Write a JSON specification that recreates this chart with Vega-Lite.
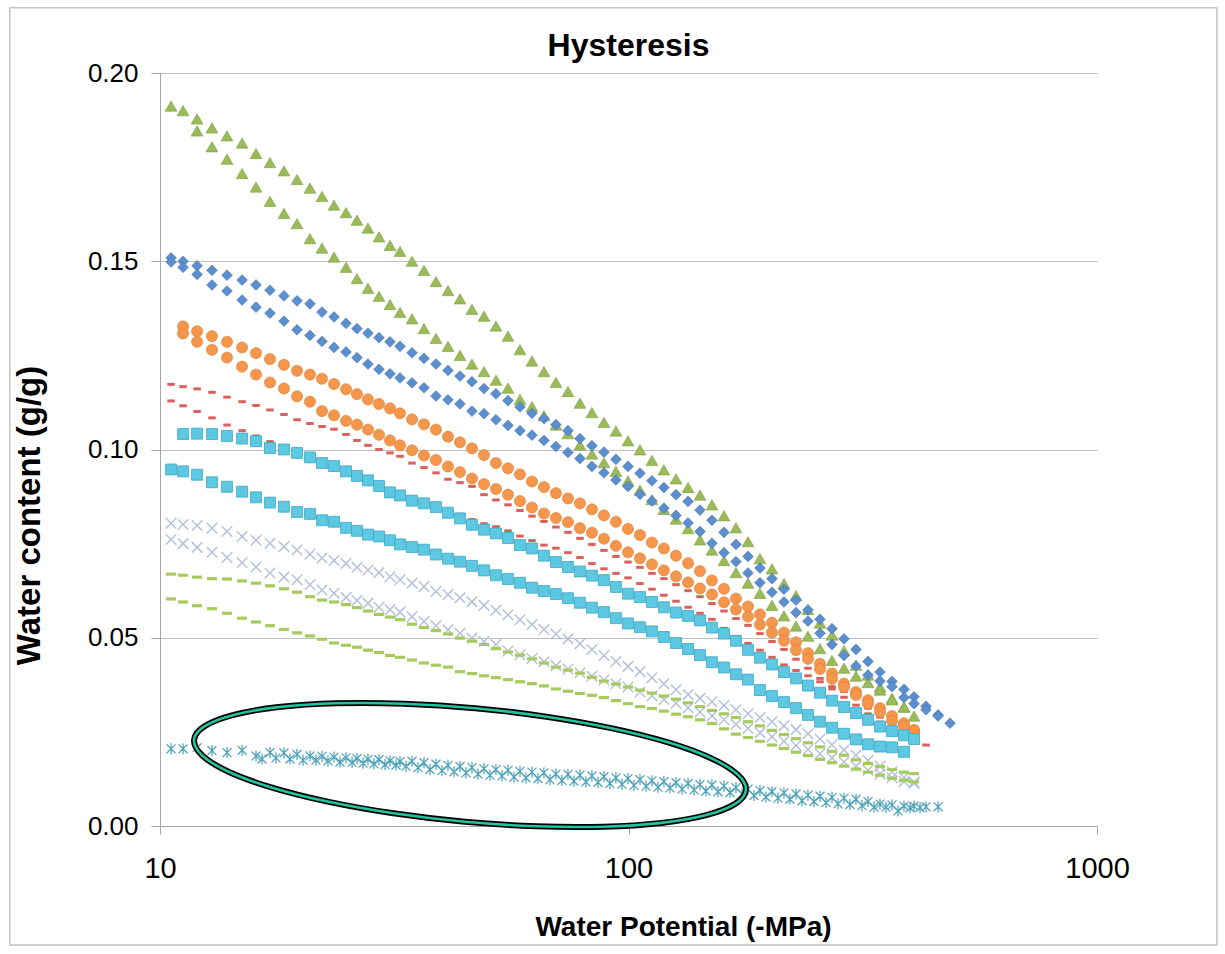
{
"$schema":"https://vega.github.io/schema/vega-lite/v6.json",
"width":937,"height":753,
"autosize":{"type":"none"},
"padding":{"left":160,"top":73,"right":128,"bottom":128},
"background":"white",
"config":{"view":{"stroke":null},"font":"Liberation Sans Narrow, Liberation Sans, sans-serif"},
"title":{"text":"Hysteresis","fontSize":32,"fontWeight":"bold","anchor":"middle","baseline":"alphabetic","offset":-48,"dy":33,"color":"black"},
"encoding":{
 "x":{"field":"x","type":"quantitative","scale":{"type":"log","domain":[10,1000]},
  "axis":{"title":"Water Potential (-MPa)","values":[10,100,1000],"format":"d","grid":false,"domainColor":"#A6A6A6","tickColor":"#A6A6A6","tickSize":8,"labelFontSize":29,"labelPadding":20,"labelColor":"black","labelFlush":false,"titleFontSize":28,"titleFontWeight":"bold","titleColor":"black","titleX":523,"titleY":101,"titleAlign":"center","titleBaseline":"middle"}},
 "y":{"field":"y","type":"quantitative","scale":{"domain":[0,0.2],"nice":false,"zero":false},
  "axis":{"title":"Water content (g/g)","values":[0,0.05,0.1,0.15,0.2],"format":".2f","grid":true,"gridColor":"#BEBEBE","domainColor":"#A6A6A6","tickColor":"#A6A6A6","tickSize":9,"labelFontSize":26,"labelPadding":13,"labelColor":"black","labelFlush":false,"titleFontSize":33,"titleFontWeight":"bold","titleColor":"black","titleX":-131,"titleY":442,"titleAngle":-90,"titleAlign":"center","titleBaseline":"middle"}}
},
"layer":[
{"data":{"values":[{"x":4.78,"x2":1803,"y":-0.0316,"y2":0.2173}]},
 "mark":{"type":"rect","fill":"transparent","stroke":"#C4C4C4","strokeWidth":1.5},
 "encoding":{"x2":{"field":"x2"},"y2":{"field":"y2"}}},
{"data":{"values":[
{"x":10.56,"y":0.1173},{"x":11.2,"y":0.1167},{"x":12.0,"y":0.1161},{"x":12.91,"y":0.1152},{"x":13.9,"y":0.1139},{"x":14.97,"y":0.1127},{"x":16.03,"y":0.1117},{"x":17.17,"y":0.1105},{"x":18.39,"y":0.1093},{"x":19.61,"y":0.1079},{"x":20.9,"y":0.1069},{"x":22.17,"y":0.1061},{"x":23.52,"y":0.1054},{"x":24.95,"y":0.104},{"x":26.33,"y":0.1024},{"x":27.79,"y":0.1011},{"x":29.34,"y":0.1},{"x":30.97,"y":0.0991},{"x":32.53,"y":0.0982},{"x":34.51,"y":0.0964},{"x":36.6,"y":0.0952},{"x":38.82,"y":0.0938},{"x":41.18,"y":0.0921},{"x":43.68,"y":0.0912},{"x":46.33,"y":0.0902},{"x":49.15,"y":0.088},{"x":52.13,"y":0.0866},{"x":55.3,"y":0.0853},{"x":58.66,"y":0.0838},{"x":62.22,"y":0.0823},{"x":66.0,"y":0.0809},{"x":70.0,"y":0.0794},{"x":74.26,"y":0.078},{"x":78.77,"y":0.0764},{"x":83.55,"y":0.0748},{"x":88.63,"y":0.0732},{"x":94.01,"y":0.0716},{"x":99.75,"y":0.0701},{"x":105.8,"y":0.0687},{"x":112.2,"y":0.0671},{"x":119.0,"y":0.0657},{"x":126.3,"y":0.0641},{"x":134.0,"y":0.0625},{"x":142.1,"y":0.0609},{"x":150.7,"y":0.0591},{"x":159.9,"y":0.0571},{"x":169.6,"y":0.0551},{"x":179.9,"y":0.0533},{"x":190.8,"y":0.0511},{"x":202.4,"y":0.049},{"x":214.7,"y":0.0469},{"x":227.8,"y":0.0443},{"x":241.6,"y":0.0419},{"x":256.3,"y":0.0392},{"x":271.9,"y":0.0364},{"x":288.4,"y":0.0342},{"x":305.9,"y":0.0321},{"x":324.5,"y":0.0298},{"x":344.2,"y":0.0276},{"x":365.2,"y":0.0252},{"x":387.3,"y":0.0235},{"x":406.9,"y":0.0223},{"x":431.6,"y":0.0215},
{"x":10.56,"y":0.1129},{"x":11.2,"y":0.1116},{"x":12.0,"y":0.1101},{"x":12.91,"y":0.1084},{"x":13.9,"y":0.1065},{"x":14.97,"y":0.105},{"x":16.03,"y":0.1036},{"x":17.17,"y":0.1021},{"x":18.39,"y":0.1006},{"x":19.61,"y":0.0992},{"x":20.9,"y":0.0976},{"x":22.17,"y":0.0961},{"x":23.52,"y":0.0951},{"x":24.95,"y":0.094},{"x":26.33,"y":0.0929},{"x":27.79,"y":0.0918},{"x":29.34,"y":0.0907},{"x":30.97,"y":0.0897},{"x":32.53,"y":0.0887},{"x":34.51,"y":0.0875},{"x":36.6,"y":0.0864},{"x":38.82,"y":0.0852},{"x":41.18,"y":0.084},{"x":43.68,"y":0.0828},{"x":46.33,"y":0.0814},{"x":49.15,"y":0.0803},{"x":52.13,"y":0.0795},{"x":55.3,"y":0.0784},{"x":58.66,"y":0.077},{"x":62.22,"y":0.0758},{"x":66.0,"y":0.0746},{"x":70.0,"y":0.0738},{"x":74.26,"y":0.0726},{"x":78.77,"y":0.0713},{"x":83.55,"y":0.0697},{"x":88.63,"y":0.0683},{"x":94.01,"y":0.0671},{"x":99.75,"y":0.0659},{"x":105.8,"y":0.0644},{"x":112.2,"y":0.0629},{"x":119.0,"y":0.0613},{"x":126.3,"y":0.0597},{"x":134.0,"y":0.0581},{"x":142.1,"y":0.0565},{"x":150.7,"y":0.0549},{"x":159.9,"y":0.0525},{"x":169.6,"y":0.0503},{"x":179.9,"y":0.0485},{"x":190.8,"y":0.0467},{"x":202.4,"y":0.0448},{"x":214.7,"y":0.0428},{"x":227.8,"y":0.0413},{"x":241.6,"y":0.0399},{"x":256.3,"y":0.0383},{"x":271.9,"y":0.037},{"x":288.4,"y":0.0357},{"x":305.9,"y":0.0344},{"x":324.5,"y":0.0313},{"x":344.2,"y":0.0289},{"x":365.2,"y":0.0269},{"x":387.3,"y":0.0249},{"x":406.9,"y":0.0231}
]},
 "mark":{"type":"point","shape":"M-1,-0.4L1,-0.4L1,0.4L-1,0.4Z","filled":true,"fill":"#D9605C","size":56,"opacity":1}},
{"data":{"values":[
{"x":10.56,"y":0.1912},{"x":11.2,"y":0.19},{"x":12.0,"y":0.1878},{"x":12.91,"y":0.1854},{"x":13.9,"y":0.1833},{"x":14.97,"y":0.1814},{"x":16.03,"y":0.1786},{"x":17.17,"y":0.1762},{"x":18.39,"y":0.174},{"x":19.61,"y":0.1717},{"x":20.9,"y":0.1694},{"x":22.17,"y":0.1672},{"x":23.52,"y":0.1649},{"x":24.95,"y":0.1629},{"x":26.33,"y":0.1609},{"x":27.79,"y":0.1588},{"x":29.34,"y":0.1565},{"x":30.97,"y":0.1542},{"x":32.53,"y":0.1526},{"x":34.51,"y":0.15},{"x":36.6,"y":0.1476},{"x":38.82,"y":0.1446},{"x":41.18,"y":0.1422},{"x":43.68,"y":0.14},{"x":46.33,"y":0.1372},{"x":49.15,"y":0.1354},{"x":52.13,"y":0.1328},{"x":55.3,"y":0.1301},{"x":58.66,"y":0.1265},{"x":62.22,"y":0.1235},{"x":66.0,"y":0.1207},{"x":70.0,"y":0.1178},{"x":74.26,"y":0.1154},{"x":78.77,"y":0.1123},{"x":83.55,"y":0.1098},{"x":88.63,"y":0.1072},{"x":94.01,"y":0.1049},{"x":99.75,"y":0.1023},{"x":105.8,"y":0.0999},{"x":112.2,"y":0.0971},{"x":119.0,"y":0.0946},{"x":126.3,"y":0.0922},{"x":134.0,"y":0.0899},{"x":142.1,"y":0.0879},{"x":150.7,"y":0.0853},{"x":159.9,"y":0.0824},{"x":169.6,"y":0.0792},{"x":179.9,"y":0.0755},{"x":190.8,"y":0.071},{"x":202.4,"y":0.0683},{"x":214.7,"y":0.0644},{"x":227.8,"y":0.0612},{"x":241.6,"y":0.0575},{"x":256.3,"y":0.0539},{"x":271.9,"y":0.0507},{"x":288.4,"y":0.0466},{"x":305.9,"y":0.0427},{"x":324.5,"y":0.0401},{"x":344.2,"y":0.0369},{"x":365.2,"y":0.0339},{"x":387.3,"y":0.0316},{"x":406.9,"y":0.0292},
{"x":12.0,"y":0.1846},{"x":12.91,"y":0.1804},{"x":13.9,"y":0.1771},{"x":14.97,"y":0.1733},{"x":16.03,"y":0.1697},{"x":17.17,"y":0.1659},{"x":18.39,"y":0.1627},{"x":19.61,"y":0.16},{"x":20.9,"y":0.156},{"x":22.17,"y":0.1535},{"x":23.52,"y":0.1511},{"x":24.95,"y":0.1484},{"x":26.33,"y":0.1454},{"x":27.79,"y":0.1428},{"x":29.34,"y":0.1407},{"x":30.97,"y":0.1385},{"x":32.53,"y":0.1364},{"x":34.51,"y":0.1347},{"x":36.6,"y":0.1321},{"x":38.82,"y":0.1295},{"x":41.18,"y":0.1274},{"x":43.68,"y":0.125},{"x":46.33,"y":0.1227},{"x":49.15,"y":0.1207},{"x":52.13,"y":0.1184},{"x":55.3,"y":0.1163},{"x":58.66,"y":0.1133},{"x":62.22,"y":0.1114},{"x":66.0,"y":0.109},{"x":70.0,"y":0.1065},{"x":74.26,"y":0.1042},{"x":78.77,"y":0.1012},{"x":83.55,"y":0.0988},{"x":88.63,"y":0.0965},{"x":94.01,"y":0.0942},{"x":99.75,"y":0.0917},{"x":105.8,"y":0.0892},{"x":112.2,"y":0.0867},{"x":119.0,"y":0.0841},{"x":126.3,"y":0.0815},{"x":134.0,"y":0.079},{"x":142.1,"y":0.076},{"x":150.7,"y":0.0733},{"x":159.9,"y":0.0705},{"x":169.6,"y":0.0673},{"x":179.9,"y":0.0645},{"x":190.8,"y":0.0618},{"x":202.4,"y":0.0586},{"x":214.7,"y":0.0558},{"x":227.8,"y":0.0531},{"x":241.6,"y":0.0504},{"x":256.3,"y":0.0471},{"x":271.9,"y":0.044},{"x":288.4,"y":0.0419},{"x":305.9,"y":0.0398},{"x":324.5,"y":0.0381},{"x":344.2,"y":0.0361},{"x":365.2,"y":0.0335},{"x":387.3,"y":0.0316}
]},
 "mark":{"type":"point","shape":"triangle-up","filled":true,"fill":"#9BBB59","stroke":"#7E9D44","strokeWidth":0.6,"size":140,"opacity":1}},
{"data":{"values":[
{"x":10.56,"y":0.1509},{"x":11.2,"y":0.15},{"x":12.0,"y":0.1488},{"x":12.91,"y":0.1476},{"x":13.9,"y":0.1463},{"x":14.97,"y":0.145},{"x":16.03,"y":0.1437},{"x":17.17,"y":0.1423},{"x":18.39,"y":0.1408},{"x":19.61,"y":0.1395},{"x":20.9,"y":0.1387},{"x":22.17,"y":0.1365},{"x":23.52,"y":0.1352},{"x":24.95,"y":0.1335},{"x":26.33,"y":0.1321},{"x":27.79,"y":0.1309},{"x":29.34,"y":0.1297},{"x":30.97,"y":0.1286},{"x":32.53,"y":0.1274},{"x":34.51,"y":0.1257},{"x":36.6,"y":0.1242},{"x":38.82,"y":0.1227},{"x":41.18,"y":0.121},{"x":43.68,"y":0.1195},{"x":46.33,"y":0.118},{"x":49.15,"y":0.1162},{"x":52.13,"y":0.1148},{"x":55.3,"y":0.113},{"x":58.66,"y":0.1113},{"x":62.22,"y":0.1096},{"x":66.0,"y":0.1082},{"x":70.0,"y":0.1066},{"x":74.26,"y":0.105},{"x":78.77,"y":0.1029},{"x":83.55,"y":0.101},{"x":88.63,"y":0.0993},{"x":94.01,"y":0.0974},{"x":99.75,"y":0.0955},{"x":105.8,"y":0.0937},{"x":112.2,"y":0.0917},{"x":119.0,"y":0.0899},{"x":126.3,"y":0.088},{"x":134.0,"y":0.0862},{"x":142.1,"y":0.0839},{"x":150.7,"y":0.0812},{"x":159.9,"y":0.078},{"x":169.6,"y":0.0748},{"x":179.9,"y":0.0716},{"x":190.8,"y":0.0685},{"x":202.4,"y":0.0657},{"x":214.7,"y":0.0629},{"x":227.8,"y":0.06},{"x":241.6,"y":0.0574},{"x":256.3,"y":0.0549},{"x":271.9,"y":0.0524},{"x":288.4,"y":0.0497},{"x":305.9,"y":0.0469},{"x":324.5,"y":0.0437},{"x":344.2,"y":0.0409},{"x":365.2,"y":0.0384},{"x":387.3,"y":0.0363},{"x":406.9,"y":0.0343},{"x":431.6,"y":0.0318},{"x":457.9,"y":0.0295},{"x":485.7,"y":0.0273},
{"x":10.56,"y":0.1498},{"x":11.2,"y":0.1484},{"x":12.0,"y":0.1465},{"x":12.91,"y":0.1437},{"x":13.9,"y":0.1421},{"x":14.97,"y":0.1397},{"x":16.03,"y":0.1378},{"x":17.17,"y":0.1362},{"x":18.39,"y":0.1341},{"x":19.61,"y":0.1318},{"x":20.9,"y":0.1303},{"x":22.17,"y":0.1287},{"x":23.52,"y":0.1271},{"x":24.95,"y":0.1259},{"x":26.33,"y":0.1244},{"x":27.79,"y":0.1227},{"x":29.34,"y":0.1213},{"x":30.97,"y":0.1201},{"x":32.53,"y":0.119},{"x":34.51,"y":0.1177},{"x":36.6,"y":0.1164},{"x":38.82,"y":0.1142},{"x":41.18,"y":0.1132},{"x":43.68,"y":0.1121},{"x":46.33,"y":0.1102},{"x":49.15,"y":0.1095},{"x":52.13,"y":0.1079},{"x":55.3,"y":0.1064},{"x":58.66,"y":0.105},{"x":62.22,"y":0.1038},{"x":66.0,"y":0.1024},{"x":70.0,"y":0.1008},{"x":74.26,"y":0.0992},{"x":78.77,"y":0.0976},{"x":83.55,"y":0.0955},{"x":88.63,"y":0.0938},{"x":94.01,"y":0.0919},{"x":99.75,"y":0.0902},{"x":105.8,"y":0.0881},{"x":112.2,"y":0.0863},{"x":119.0,"y":0.0844},{"x":126.3,"y":0.0825},{"x":134.0,"y":0.0805},{"x":142.1,"y":0.0782},{"x":150.7,"y":0.0751},{"x":159.9,"y":0.0726},{"x":169.6,"y":0.0702},{"x":179.9,"y":0.0672},{"x":190.8,"y":0.0646},{"x":202.4,"y":0.0621},{"x":214.7,"y":0.0595},{"x":227.8,"y":0.0567},{"x":241.6,"y":0.0544},{"x":256.3,"y":0.0512},{"x":271.9,"y":0.0482},{"x":288.4,"y":0.0453},{"x":305.9,"y":0.0425},{"x":324.5,"y":0.0401},{"x":344.2,"y":0.0385},{"x":365.2,"y":0.037},{"x":387.3,"y":0.0341},{"x":406.9,"y":0.0325},{"x":431.6,"y":0.0309},{"x":457.9,"y":0.0292}
]},
 "mark":{"type":"point","shape":"diamond","filled":true,"fill":"#5B8ECF","stroke":"#4674AE","strokeWidth":0.6,"size":115,"opacity":1}},
{"data":{"values":[
{"x":11.2,"y":0.1327},{"x":12.0,"y":0.1314},{"x":12.91,"y":0.1301},{"x":13.9,"y":0.1286},{"x":14.97,"y":0.1271},{"x":16.03,"y":0.1256},{"x":17.17,"y":0.124},{"x":18.39,"y":0.1225},{"x":19.61,"y":0.1209},{"x":20.9,"y":0.1199},{"x":22.17,"y":0.1188},{"x":23.52,"y":0.1174},{"x":24.95,"y":0.116},{"x":26.33,"y":0.1147},{"x":27.79,"y":0.1133},{"x":29.34,"y":0.1121},{"x":30.97,"y":0.1109},{"x":32.53,"y":0.1096},{"x":34.51,"y":0.108},{"x":36.6,"y":0.1067},{"x":38.82,"y":0.1053},{"x":41.18,"y":0.1034},{"x":43.68,"y":0.1019},{"x":46.33,"y":0.1003},{"x":49.15,"y":0.0985},{"x":52.13,"y":0.0964},{"x":55.3,"y":0.095},{"x":58.66,"y":0.0934},{"x":62.22,"y":0.0915},{"x":66.0,"y":0.09},{"x":70.0,"y":0.0884},{"x":74.26,"y":0.087},{"x":78.77,"y":0.0857},{"x":83.55,"y":0.0841},{"x":88.63,"y":0.0825},{"x":94.01,"y":0.0808},{"x":99.75,"y":0.0789},{"x":105.8,"y":0.0773},{"x":112.2,"y":0.0753},{"x":119.0,"y":0.0737},{"x":126.3,"y":0.0718},{"x":134.0,"y":0.0698},{"x":142.1,"y":0.0677},{"x":150.7,"y":0.0652},{"x":159.9,"y":0.063},{"x":169.6,"y":0.0604},{"x":179.9,"y":0.0583},{"x":190.8,"y":0.0562},{"x":202.4,"y":0.054},{"x":214.7,"y":0.0514},{"x":227.8,"y":0.0488},{"x":241.6,"y":0.0459},{"x":256.3,"y":0.0431},{"x":271.9,"y":0.0405},{"x":288.4,"y":0.0378},{"x":305.9,"y":0.0356},{"x":324.5,"y":0.0334},{"x":344.2,"y":0.0313},{"x":365.2,"y":0.0292},{"x":387.3,"y":0.0273},{"x":406.9,"y":0.0255},
{"x":11.2,"y":0.1308},{"x":12.0,"y":0.1286},{"x":12.91,"y":0.1265},{"x":13.9,"y":0.1244},{"x":14.97,"y":0.122},{"x":16.03,"y":0.1199},{"x":17.17,"y":0.1178},{"x":18.39,"y":0.1162},{"x":19.61,"y":0.1141},{"x":20.9,"y":0.1127},{"x":22.17,"y":0.1102},{"x":23.52,"y":0.1091},{"x":24.95,"y":0.1076},{"x":26.33,"y":0.1066},{"x":27.79,"y":0.1053},{"x":29.34,"y":0.1039},{"x":30.97,"y":0.1024},{"x":32.53,"y":0.1011},{"x":34.51,"y":0.0998},{"x":36.6,"y":0.0984},{"x":38.82,"y":0.0972},{"x":41.18,"y":0.0955},{"x":43.68,"y":0.094},{"x":46.33,"y":0.0923},{"x":49.15,"y":0.0908},{"x":52.13,"y":0.0895},{"x":55.3,"y":0.088},{"x":58.66,"y":0.0863},{"x":62.22,"y":0.0846},{"x":66.0,"y":0.083},{"x":70.0,"y":0.0818},{"x":74.26,"y":0.0807},{"x":78.77,"y":0.0791},{"x":83.55,"y":0.0779},{"x":88.63,"y":0.0763},{"x":94.01,"y":0.0744},{"x":99.75,"y":0.0727},{"x":105.8,"y":0.0711},{"x":112.2,"y":0.0695},{"x":119.0,"y":0.0679},{"x":126.3,"y":0.0663},{"x":134.0,"y":0.0647},{"x":142.1,"y":0.0631},{"x":150.7,"y":0.0615},{"x":159.9,"y":0.0594},{"x":169.6,"y":0.0575},{"x":179.9,"y":0.0556},{"x":190.8,"y":0.0535},{"x":202.4,"y":0.0514},{"x":214.7,"y":0.0492},{"x":227.8,"y":0.0467},{"x":241.6,"y":0.0444},{"x":256.3,"y":0.0417},{"x":271.9,"y":0.0391},{"x":288.4,"y":0.0369},{"x":305.9,"y":0.0348},{"x":324.5,"y":0.0325},{"x":344.2,"y":0.0302},{"x":365.2,"y":0.0279},{"x":387.3,"y":0.0264},{"x":406.9,"y":0.0252}
]},
 "mark":{"type":"point","shape":"circle","filled":true,"fill":"#F4974C","stroke":"#DC7F34","strokeWidth":0.6,"size":125,"opacity":1}},
{"data":{"values":[
{"x":11.2,"y":0.1041},{"x":12.0,"y":0.1042},{"x":12.91,"y":0.1041},{"x":13.9,"y":0.1036},{"x":14.97,"y":0.1029},{"x":16.03,"y":0.1022},{"x":17.17,"y":0.1004},{"x":18.39,"y":0.1},{"x":19.61,"y":0.0991},{"x":20.9,"y":0.0979},{"x":22.17,"y":0.0964},{"x":23.52,"y":0.0956},{"x":24.95,"y":0.0942},{"x":26.33,"y":0.093},{"x":27.79,"y":0.0918},{"x":29.34,"y":0.0903},{"x":30.97,"y":0.0886},{"x":32.53,"y":0.0878},{"x":34.51,"y":0.0864},{"x":36.6,"y":0.0857},{"x":38.82,"y":0.0847},{"x":41.18,"y":0.0832},{"x":43.68,"y":0.0817},{"x":46.33,"y":0.08},{"x":49.15,"y":0.0787},{"x":52.13,"y":0.0777},{"x":55.3,"y":0.0765},{"x":58.66,"y":0.0746},{"x":62.22,"y":0.0737},{"x":66.0,"y":0.0718},{"x":70.0,"y":0.0701},{"x":74.26,"y":0.0688},{"x":78.77,"y":0.0676},{"x":83.55,"y":0.0665},{"x":88.63,"y":0.0653},{"x":94.01,"y":0.0635},{"x":99.75,"y":0.0617},{"x":105.8,"y":0.0608},{"x":112.2,"y":0.0595},{"x":119.0,"y":0.0581},{"x":126.3,"y":0.0567},{"x":134.0,"y":0.0558},{"x":142.1,"y":0.0546},{"x":150.7,"y":0.0527},{"x":159.9,"y":0.0511},{"x":169.6,"y":0.0492},{"x":179.9,"y":0.0468},{"x":190.8,"y":0.0447},{"x":202.4,"y":0.0429},{"x":214.7,"y":0.0409},{"x":227.8,"y":0.0392},{"x":241.6,"y":0.0373},{"x":256.3,"y":0.0354},{"x":271.9,"y":0.0333},{"x":288.4,"y":0.0316},{"x":305.9,"y":0.03},{"x":324.5,"y":0.0282},{"x":344.2,"y":0.0264},{"x":365.2,"y":0.0252},{"x":387.3,"y":0.0241},{"x":406.9,"y":0.0231},
{"x":10.56,"y":0.0947},{"x":11.2,"y":0.0942},{"x":12.0,"y":0.0933},{"x":12.91,"y":0.0913},{"x":13.9,"y":0.0901},{"x":14.97,"y":0.0888},{"x":16.03,"y":0.0873},{"x":17.17,"y":0.0859},{"x":18.39,"y":0.0848},{"x":19.61,"y":0.0834},{"x":20.9,"y":0.0829},{"x":22.17,"y":0.0812},{"x":23.52,"y":0.0808},{"x":24.95,"y":0.0792},{"x":26.33,"y":0.0784},{"x":27.79,"y":0.0774},{"x":29.34,"y":0.0769},{"x":30.97,"y":0.0759},{"x":32.53,"y":0.0748},{"x":34.51,"y":0.0741},{"x":36.6,"y":0.0734},{"x":38.82,"y":0.0721},{"x":41.18,"y":0.071},{"x":43.68,"y":0.0702},{"x":46.33,"y":0.0691},{"x":49.15,"y":0.0679},{"x":52.13,"y":0.0666},{"x":55.3,"y":0.0656},{"x":58.66,"y":0.0646},{"x":62.22,"y":0.0633},{"x":66.0,"y":0.0624},{"x":70.0,"y":0.0616},{"x":74.26,"y":0.0605},{"x":78.77,"y":0.0593},{"x":83.55,"y":0.058},{"x":88.63,"y":0.0568},{"x":94.01,"y":0.0552},{"x":99.75,"y":0.0538},{"x":105.8,"y":0.0528},{"x":112.2,"y":0.0517},{"x":119.0,"y":0.0502},{"x":126.3,"y":0.0486},{"x":134.0,"y":0.047},{"x":142.1,"y":0.0454},{"x":150.7,"y":0.0435},{"x":159.9,"y":0.0421},{"x":169.6,"y":0.0403},{"x":179.9,"y":0.0389},{"x":190.8,"y":0.0361},{"x":202.4,"y":0.0345},{"x":214.7,"y":0.0329},{"x":227.8,"y":0.0313},{"x":241.6,"y":0.0295},{"x":256.3,"y":0.0277},{"x":271.9,"y":0.0261},{"x":288.4,"y":0.0245},{"x":305.9,"y":0.023},{"x":324.5,"y":0.0217},{"x":344.2,"y":0.0211},{"x":365.2,"y":0.0209},{"x":387.3,"y":0.0197}
]},
 "mark":{"type":"point","shape":"square","filled":true,"fill":"#5CC8E2","stroke":"#3EA8C4","strokeWidth":0.8,"size":120,"opacity":1}},
{"data":{"values":[
{"x":10.56,"y":0.0804},{"x":11.2,"y":0.0801},{"x":12.0,"y":0.0798},{"x":12.91,"y":0.0791},{"x":13.9,"y":0.0782},{"x":14.97,"y":0.0769},{"x":16.03,"y":0.0759},{"x":17.17,"y":0.0751},{"x":18.39,"y":0.0742},{"x":19.61,"y":0.0733},{"x":20.9,"y":0.0722},{"x":22.17,"y":0.0712},{"x":23.52,"y":0.0705},{"x":24.95,"y":0.0697},{"x":26.33,"y":0.0687},{"x":27.79,"y":0.068},{"x":29.34,"y":0.0673},{"x":30.97,"y":0.0662},{"x":32.53,"y":0.0654},{"x":34.51,"y":0.0645},{"x":36.6,"y":0.0636},{"x":38.82,"y":0.0623},{"x":41.18,"y":0.0615},{"x":43.68,"y":0.0606},{"x":46.33,"y":0.0596},{"x":49.15,"y":0.0586},{"x":52.13,"y":0.0573},{"x":55.3,"y":0.0561},{"x":58.66,"y":0.0548},{"x":62.22,"y":0.0535},{"x":66.0,"y":0.0522},{"x":70.0,"y":0.051},{"x":74.26,"y":0.0497},{"x":78.77,"y":0.0484},{"x":83.55,"y":0.0469},{"x":88.63,"y":0.0453},{"x":94.01,"y":0.0437},{"x":99.75,"y":0.0424},{"x":105.8,"y":0.041},{"x":112.2,"y":0.0394},{"x":119.0,"y":0.0378},{"x":126.3,"y":0.0362},{"x":134.0,"y":0.0349},{"x":142.1,"y":0.0339},{"x":150.7,"y":0.033},{"x":159.9,"y":0.032},{"x":169.6,"y":0.0309},{"x":179.9,"y":0.0298},{"x":190.8,"y":0.0288},{"x":202.4,"y":0.0277},{"x":214.7,"y":0.0266},{"x":227.8,"y":0.0256},{"x":241.6,"y":0.0245},{"x":256.3,"y":0.0231},{"x":271.9,"y":0.0216},{"x":288.4,"y":0.0202},{"x":305.9,"y":0.0188},{"x":324.5,"y":0.0174},{"x":344.2,"y":0.0159},{"x":365.2,"y":0.0144},{"x":387.3,"y":0.0129},{"x":406.9,"y":0.0117},
{"x":10.56,"y":0.0761},{"x":11.2,"y":0.075},{"x":12.0,"y":0.074},{"x":12.91,"y":0.0727},{"x":13.9,"y":0.0713},{"x":14.97,"y":0.0699},{"x":16.03,"y":0.0688},{"x":17.17,"y":0.0672},{"x":18.39,"y":0.0661},{"x":19.61,"y":0.0654},{"x":20.9,"y":0.0641},{"x":22.17,"y":0.0627},{"x":23.52,"y":0.0618},{"x":24.95,"y":0.0607},{"x":26.33,"y":0.0599},{"x":27.79,"y":0.0592},{"x":29.34,"y":0.0581},{"x":30.97,"y":0.0575},{"x":32.53,"y":0.0568},{"x":34.51,"y":0.0556},{"x":36.6,"y":0.0543},{"x":38.82,"y":0.0532},{"x":41.18,"y":0.0521},{"x":43.68,"y":0.0512},{"x":46.33,"y":0.0499},{"x":49.15,"y":0.049},{"x":52.13,"y":0.0482},{"x":55.3,"y":0.0465},{"x":58.66,"y":0.0455},{"x":62.22,"y":0.0445},{"x":66.0,"y":0.0436},{"x":70.0,"y":0.0426},{"x":74.26,"y":0.0417},{"x":78.77,"y":0.0407},{"x":83.55,"y":0.0398},{"x":88.63,"y":0.0388},{"x":94.01,"y":0.0378},{"x":99.75,"y":0.0369},{"x":105.8,"y":0.0356},{"x":112.2,"y":0.0346},{"x":119.0,"y":0.0336},{"x":126.3,"y":0.0326},{"x":134.0,"y":0.0314},{"x":142.1,"y":0.0303},{"x":150.7,"y":0.0293},{"x":159.9,"y":0.0282},{"x":169.6,"y":0.027},{"x":179.9,"y":0.0259},{"x":190.8,"y":0.0248},{"x":202.4,"y":0.0237},{"x":214.7,"y":0.0225},{"x":227.8,"y":0.0214},{"x":241.6,"y":0.0203},{"x":256.3,"y":0.0192},{"x":271.9,"y":0.0181},{"x":288.4,"y":0.017},{"x":305.9,"y":0.0159},{"x":324.5,"y":0.0148},{"x":344.2,"y":0.0138},{"x":365.2,"y":0.0128},{"x":387.3,"y":0.0118},{"x":406.9,"y":0.0113}
]},
 "mark":{"type":"point","shape":"M-1,-1L1,1M-1,1L1,-1","filled":false,"stroke":"#B7C1DA","strokeWidth":1.5,"size":110,"opacity":1}},
{"data":{"values":[
{"x":10.56,"y":0.0669},{"x":11.2,"y":0.0666},{"x":12.0,"y":0.0661},{"x":12.91,"y":0.0657},{"x":13.9,"y":0.0656},{"x":14.97,"y":0.0651},{"x":16.03,"y":0.0645},{"x":17.17,"y":0.0638},{"x":18.39,"y":0.063},{"x":19.61,"y":0.0621},{"x":20.9,"y":0.0609},{"x":22.17,"y":0.06},{"x":23.52,"y":0.0595},{"x":24.95,"y":0.0588},{"x":26.33,"y":0.058},{"x":27.79,"y":0.0571},{"x":29.34,"y":0.0562},{"x":30.97,"y":0.0555},{"x":32.53,"y":0.0548},{"x":34.51,"y":0.0536},{"x":36.6,"y":0.0527},{"x":38.82,"y":0.0519},{"x":41.18,"y":0.051},{"x":43.68,"y":0.0499},{"x":46.33,"y":0.0491},{"x":49.15,"y":0.0482},{"x":52.13,"y":0.0471},{"x":55.3,"y":0.0462},{"x":58.66,"y":0.0454},{"x":62.22,"y":0.0444},{"x":66.0,"y":0.0433},{"x":70.0,"y":0.0422},{"x":74.26,"y":0.0414},{"x":78.77,"y":0.0406},{"x":83.55,"y":0.0395},{"x":88.63,"y":0.0385},{"x":94.01,"y":0.0377},{"x":99.75,"y":0.0369},{"x":105.8,"y":0.0361},{"x":112.2,"y":0.0353},{"x":119.0,"y":0.0345},{"x":126.3,"y":0.0337},{"x":134.0,"y":0.0327},{"x":142.1,"y":0.0317},{"x":150.7,"y":0.0307},{"x":159.9,"y":0.0298},{"x":169.6,"y":0.0288},{"x":179.9,"y":0.0277},{"x":190.8,"y":0.0266},{"x":202.4,"y":0.0254},{"x":214.7,"y":0.0243},{"x":227.8,"y":0.0232},{"x":241.6,"y":0.0221},{"x":256.3,"y":0.021},{"x":271.9,"y":0.0198},{"x":288.4,"y":0.0188},{"x":305.9,"y":0.0176},{"x":324.5,"y":0.0166},{"x":344.2,"y":0.0158},{"x":365.2,"y":0.015},{"x":387.3,"y":0.0143},{"x":406.9,"y":0.0139},
{"x":10.56,"y":0.0603},{"x":11.2,"y":0.0595},{"x":12.0,"y":0.0585},{"x":12.91,"y":0.0577},{"x":13.9,"y":0.0565},{"x":14.97,"y":0.0552},{"x":16.03,"y":0.0542},{"x":17.17,"y":0.0532},{"x":18.39,"y":0.0522},{"x":19.61,"y":0.0513},{"x":20.9,"y":0.0505},{"x":22.17,"y":0.0496},{"x":23.52,"y":0.0486},{"x":24.95,"y":0.048},{"x":26.33,"y":0.0475},{"x":27.79,"y":0.0467},{"x":29.34,"y":0.0461},{"x":30.97,"y":0.0453},{"x":32.53,"y":0.0448},{"x":34.51,"y":0.0441},{"x":36.6,"y":0.0433},{"x":38.82,"y":0.0427},{"x":41.18,"y":0.0422},{"x":43.68,"y":0.041},{"x":46.33,"y":0.0405},{"x":49.15,"y":0.0399},{"x":52.13,"y":0.0394},{"x":55.3,"y":0.0389},{"x":58.66,"y":0.0383},{"x":62.22,"y":0.0378},{"x":66.0,"y":0.0372},{"x":70.0,"y":0.0364},{"x":74.26,"y":0.0358},{"x":78.77,"y":0.0352},{"x":83.55,"y":0.0347},{"x":88.63,"y":0.0341},{"x":94.01,"y":0.0333},{"x":99.75,"y":0.0325},{"x":105.8,"y":0.0317},{"x":112.2,"y":0.0312},{"x":119.0,"y":0.0305},{"x":126.3,"y":0.0297},{"x":134.0,"y":0.029},{"x":142.1,"y":0.0282},{"x":150.7,"y":0.0272},{"x":159.9,"y":0.0258},{"x":169.6,"y":0.0244},{"x":179.9,"y":0.0235},{"x":190.8,"y":0.0225},{"x":202.4,"y":0.0215},{"x":214.7,"y":0.0206},{"x":227.8,"y":0.0196},{"x":241.6,"y":0.0187},{"x":256.3,"y":0.0177},{"x":271.9,"y":0.0168},{"x":288.4,"y":0.0159},{"x":305.9,"y":0.0151},{"x":324.5,"y":0.0143},{"x":344.2,"y":0.0135},{"x":365.2,"y":0.0127},{"x":387.3,"y":0.0121},{"x":406.9,"y":0.0117}
]},
 "mark":{"type":"point","shape":"M-1,-0.32L1,-0.32L1,0.32L-1,0.32Z","filled":true,"fill":"#A6CB5D","size":100,"opacity":1}},
{"data":{"values":[
{"x":10.56,"y":0.0205},{"x":11.2,"y":0.0205},{"x":12.0,"y":0.0208},{"x":12.91,"y":0.02},{"x":13.9,"y":0.0195},{"x":14.97,"y":0.0201},{"x":16.03,"y":0.0186},{"x":17.17,"y":0.0195},{"x":18.39,"y":0.0194},{"x":19.61,"y":0.019},{"x":20.9,"y":0.0186},{"x":22.17,"y":0.0185},{"x":23.52,"y":0.0183},{"x":24.95,"y":0.0181},{"x":26.33,"y":0.0179},{"x":27.79,"y":0.0177},{"x":29.34,"y":0.0176},{"x":30.97,"y":0.0173},{"x":32.53,"y":0.0171},{"x":34.51,"y":0.0172},{"x":36.6,"y":0.0168},{"x":38.82,"y":0.0164},{"x":41.18,"y":0.0161},{"x":43.68,"y":0.0158},{"x":46.33,"y":0.0155},{"x":49.15,"y":0.0152},{"x":52.13,"y":0.015},{"x":55.3,"y":0.0148},{"x":58.66,"y":0.0145},{"x":62.22,"y":0.0143},{"x":66.0,"y":0.0141},{"x":70.0,"y":0.0138},{"x":74.26,"y":0.0137},{"x":78.77,"y":0.0135},{"x":83.55,"y":0.0133},{"x":88.63,"y":0.0131},{"x":94.01,"y":0.0128},{"x":99.75,"y":0.0126},{"x":105.8,"y":0.0123},{"x":112.2,"y":0.012},{"x":119.0,"y":0.0118},{"x":126.3,"y":0.0115},{"x":134.0,"y":0.0113},{"x":142.1,"y":0.011},{"x":150.7,"y":0.0109},{"x":159.9,"y":0.0106},{"x":169.6,"y":0.0102},{"x":179.9,"y":0.0098},{"x":190.8,"y":0.0094},{"x":202.4,"y":0.0091},{"x":214.7,"y":0.0088},{"x":227.8,"y":0.0085},{"x":241.6,"y":0.0082},{"x":256.3,"y":0.0079},{"x":271.9,"y":0.0076},{"x":288.4,"y":0.0074},{"x":305.9,"y":0.0071},{"x":324.5,"y":0.0065},{"x":344.2,"y":0.0058},{"x":365.2,"y":0.0056},{"x":387.3,"y":0.0053},{"x":406.9,"y":0.0053},{"x":431.6,"y":0.0051},{"x":457.9,"y":0.0051},
{"x":16.51,"y":0.0178},{"x":17.68,"y":0.0181},{"x":18.94,"y":0.0178},{"x":20.2,"y":0.0175},{"x":21.52,"y":0.0175},{"x":22.83,"y":0.0173},{"x":24.22,"y":0.017},{"x":25.7,"y":0.0169},{"x":27.12,"y":0.0167},{"x":28.62,"y":0.0165},{"x":30.22,"y":0.0163},{"x":31.9,"y":0.0162},{"x":33.5,"y":0.0159},{"x":35.54,"y":0.0155},{"x":37.69,"y":0.015},{"x":39.98,"y":0.0147},{"x":42.41,"y":0.0144},{"x":44.99,"y":0.0141},{"x":47.72,"y":0.0138},{"x":50.62,"y":0.0135},{"x":53.69,"y":0.0133},{"x":56.95,"y":0.013},{"x":60.41,"y":0.0128},{"x":64.08,"y":0.0126},{"x":67.97,"y":0.0123},{"x":72.09,"y":0.0121},{"x":76.48,"y":0.0119},{"x":81.12,"y":0.0117},{"x":86.05,"y":0.0116},{"x":91.28,"y":0.0113},{"x":96.82,"y":0.0111},{"x":102.7,"y":0.0108},{"x":109.0,"y":0.0106},{"x":115.6,"y":0.0103},{"x":122.6,"y":0.0101},{"x":130.1,"y":0.0098},{"x":138.0,"y":0.0096},{"x":146.3,"y":0.0093},{"x":155.2,"y":0.0091},{"x":164.7,"y":0.0089},{"x":174.7,"y":0.0085},{"x":185.3,"y":0.0081},{"x":196.5,"y":0.0077},{"x":208.5,"y":0.0074},{"x":221.1,"y":0.0071},{"x":234.6,"y":0.0067},{"x":248.8,"y":0.0065},{"x":264.0,"y":0.0062},{"x":280.0,"y":0.0059},{"x":297.0,"y":0.0057},{"x":315.0,"y":0.0054},{"x":334.2,"y":0.005},{"x":354.5,"y":0.005},{"x":376.1,"y":0.004},{"x":398.9,"y":0.0048},{"x":419.1,"y":0.0049}
]},
 "mark":{"type":"point","shape":"M-1,-1L1,1M-1,1L1,-1M0,-1.25L0,1.25","filled":false,"stroke":"#4AA1B8","strokeWidth":1.2,"size":80,"opacity":1}},
{"data":{"values":[
{"i":0,"x":178.1,"y":0.00954},{"i":1,"x":168.9,"y":0.00587},{"i":2,"x":146.6,"y":0.0029},{"i":3,"x":117.6,"y":0.00082},{"i":4,"x":88.4,"y":-0.00019},{"i":5,"x":63.6,"y":-0.00008},{"i":6,"x":44.7,"y":0.00112},{"i":7,"x":31.5,"y":0.00337},{"i":8,"x":22.79,"y":0.00648},{"i":9,"x":17.28,"y":0.01025},{"i":10,"x":14.0,"y":0.01442},{"i":11,"x":12.31,"y":0.01873},{"i":12,"x":11.82,"y":0.02287},{"i":13,"x":12.46,"y":0.02653},{"i":14,"x":14.36,"y":0.02951},{"i":15,"x":17.91,"y":0.03158},{"i":16,"x":23.81,"y":0.03259},{"i":17,"x":33.11,"y":0.03248},{"i":18,"x":47.08,"y":0.03129},{"i":19,"x":66.78,"y":0.02903},{"i":20,"x":92.4,"y":0.02592},{"i":21,"x":121.9,"y":0.02215},{"i":22,"x":150.4,"y":0.01795},{"i":23,"x":171.1,"y":0.01365}
]},
 "layer":[
  {"mark":{"type":"line","interpolate":"cardinal-closed","stroke":"black","strokeWidth":6},"encoding":{"order":{"field":"i","type":"quantitative"}}},
  {"mark":{"type":"line","interpolate":"cardinal-closed","stroke":"#22C3A0","strokeWidth":2.6},"encoding":{"order":{"field":"i","type":"quantitative"}}}
 ]}
]
}
